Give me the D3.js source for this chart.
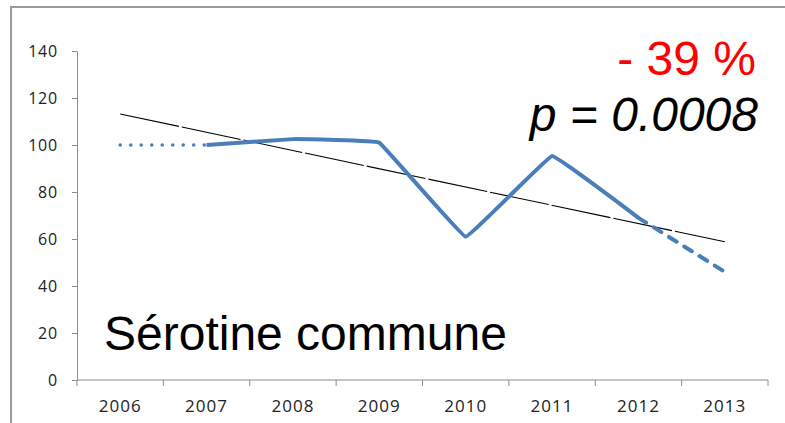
<!DOCTYPE html>
<html>
<head>
<meta charset="utf-8">
<script src="https://cdn.jsdelivr.net/npm/d3@7"></script>
<style>
  html, body { margin: 0; padding: 0; background: #fff; }
  svg { display: block; }
</style>
</head>
<body>
<div id="chart"></div>
<script>
const years = ["2006", "2007", "2008", "2009", "2010", "2011", "2012", "2013"];
const index = [100, 100, 102.5, 101, 61, 95.3, 69, 46];
const trend = [113.2, 58.8]; // 2006 -> 2013
const yTicks = [0, 20, 40, 60, 80, 100, 120, 140];

const W = 785, H = 423;
const margin = { top: 51, right: 17, bottom: 43, left: 77 };
const width = W - margin.left - margin.right;
const height = H - margin.top - margin.bottom;

const tickFont = "'Open Sans', Lato, sans-serif";

const svg = d3.select("#chart").append("svg")
  .attr("width", W)
  .attr("height", H);

// outer frame
svg.append("path")
  .attr("d", `M11,${H + 2} L11,7 L${W + 2},7`)
  .attr("fill", "none")
  .attr("stroke", "#9a9a9a")
  .attr("stroke-width", 2);

const g = svg.append("g")
  .attr("transform", `translate(${margin.left},${margin.top})`);

const x = d3.scaleBand()
  .domain(years)
  .range([0, width]);

const y = d3.scaleLinear()
  .domain([0, 140])
  .range([height, 0]);

const cx = d => x(d) + x.bandwidth() / 2;

// y axis
const yAxis = g.append("g")
  .call(d3.axisLeft(y).tickValues(yTicks).tickSize(5).tickPadding(14).tickSizeOuter(0));
yAxis.select(".domain").attr("stroke", "#8c8c8c");
yAxis.selectAll(".tick line").attr("stroke", "#8c8c8c");
yAxis.selectAll(".tick text")
  .attr("fill", "#222")
  .style("font-family", tickFont)
  .style("font-size", "16px")
  .style("letter-spacing", "0.8px");

// x axis with ticks between categories
const xAxis = g.append("g")
  .attr("transform", `translate(0,${height})`);
xAxis.append("line")
  .attr("x1", 0).attr("x2", width)
  .attr("stroke", "#8c8c8c");
const bounds = years.map(d => x(d)).concat([width]);
xAxis.selectAll(".xt")
  .data(bounds)
  .enter().append("line")
  .attr("class", "xt")
  .attr("x1", d => d).attr("x2", d => d)
  .attr("y1", 0).attr("y2", 6)
  .attr("stroke", "#8c8c8c");
xAxis.selectAll(".xl")
  .data(years)
  .enter().append("text")
  .attr("class", "xl")
  .attr("x", d => cx(d))
  .attr("y", 32)
  .attr("text-anchor", "middle")
  .attr("fill", "#222")
  .style("font-family", tickFont)
  .style("font-size", "17px")
  .style("letter-spacing", "1px")
  .text(d => d);

// trend line
g.append("line")
  .attr("x1", cx(years[0])).attr("y1", y(trend[0]))
  .attr("x2", cx(years[years.length - 1])).attr("y2", y(trend[1]))
  .attr("stroke", "#000")
  .attr("stroke-width", 1.1)
  .attr("stroke-dasharray", "60 3");

const blue = "#4a7ebb";
const pts = years.map((d, i) => ({ year: d, v: index[i] }));

const lineLin = d3.line().x(d => cx(d.year)).y(d => y(d.v));
const lineSmooth = d3.line().x(d => cx(d.year)).y(d => y(d.v)).curve(d3.curveCardinal.tension(0.85));

// dotted start 2006-2007
g.append("path")
  .datum(pts.slice(0, 2))
  .attr("d", lineLin)
  .attr("fill", "none")
  .attr("stroke", blue)
  .attr("stroke-width", 3.5)
  .attr("stroke-linecap", "round")
  .attr("stroke-dasharray", "0.1 10.4");

// solid 2007-2012
g.append("path")
  .datum(pts.slice(1, 7))
  .attr("d", lineSmooth)
  .attr("fill", "none")
  .attr("stroke", blue)
  .attr("stroke-width", 4)
  .attr("stroke-linejoin", "round");

// dashed 2012-2013
g.append("path")
  .datum(pts.slice(6, 8))
  .attr("d", lineLin)
  .attr("fill", "none")
  .attr("stroke", blue)
  .attr("stroke-width", 4)
  .attr("stroke-linecap", "round")
  .attr("stroke-dasharray", "9 9");

// annotations
svg.append("text")
  .attr("x", 756).attr("y", 75)
  .attr("text-anchor", "end")
  .attr("fill", "#ff0000")
  .style("font-family", "'Liberation Sans', Arial, sans-serif")
  .style("font-size", "48px")
  .text("- 39 %");

svg.append("text")
  .attr("x", 758).attr("y", 131)
  .attr("text-anchor", "end")
  .attr("fill", "#000")
  .style("font-family", "'Liberation Sans', Arial, sans-serif")
  .style("font-style", "italic")
  .style("font-size", "48px")
  .text("p = 0.0008");

svg.append("text")
  .attr("x", 104).attr("y", 350)
  .attr("fill", "#000")
  .style("font-family", "'Liberation Sans', Arial, sans-serif")
  .style("font-size", "48px")
  .text("Sérotine commune");
</script>
</body>
</html>
